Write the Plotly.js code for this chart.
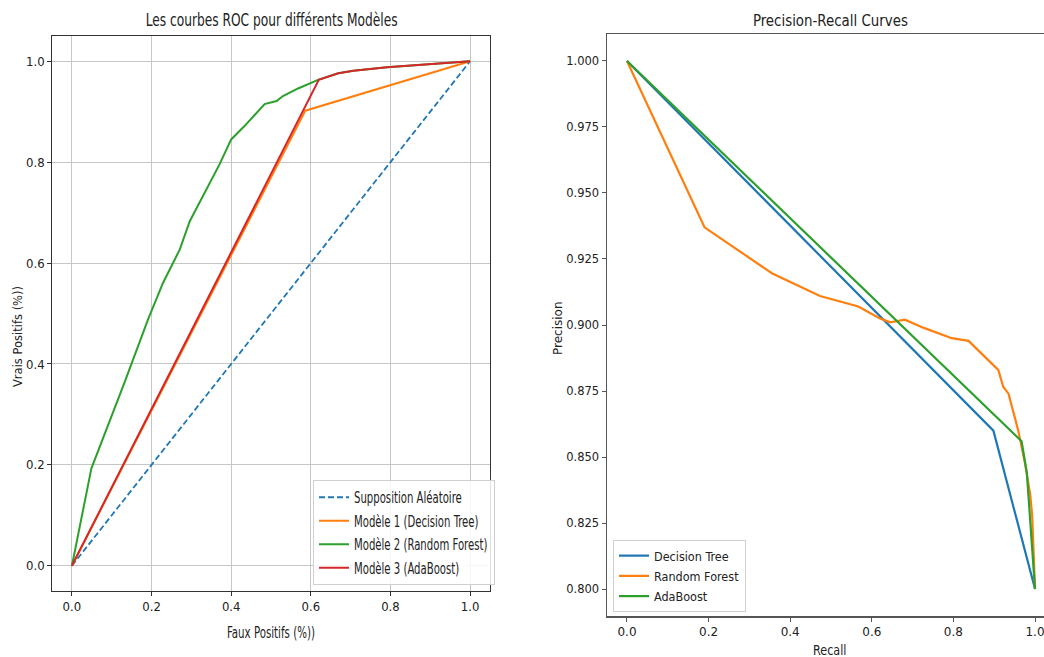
<!DOCTYPE html>
<html>
<head>
<meta charset="utf-8">
<script src="https://cdn.plot.ly/plotly-3.0.1.min.js"></script>
<style>html,body{margin:0;padding:0;background:#fff;}#chart{width:1044px;height:657px;}</style>
</head>
<body>
<div id="chart"></div>
<script>
// ROC data
const randomFpr = [0, 1];
const randomTpr = [0, 1];
const dtFpr = [0, 0.586, 1];
const dtTpr = [0, 0.902, 1];
const rfFpr = [0, 0.049, 0.132, 0.191, 0.229, 0.255, 0.271, 0.296, 0.333, 0.371, 0.400, 0.434, 0.484, 0.514, 0.530, 0.568, 0.618, 0.669, 0.707, 0.791, 1];
const rfTpr = [0, 0.193, 0.363, 0.488, 0.561, 0.601, 0.627, 0.683, 0.739, 0.796, 0.845, 0.872, 0.915, 0.921, 0.931, 0.946, 0.963, 0.976, 0.981, 0.988, 1];
const adaFpr = [0, 0.620, 0.669, 0.707, 0.791, 1];
const adaTpr = [0, 0.963, 0.976, 0.981, 0.988, 1];

// Precision-Recall data
const dtRecall = [0, 0.898, 1];
const dtPrecision = [1, 0.860, 0.800];
const rfRecall = [0, 0.190, 0.355, 0.473, 0.567, 0.620, 0.645, 0.681, 0.726, 0.796, 0.837, 0.910, 0.922, 0.935, 0.959, 0.975, 0.988, 0.993, 1];
const rfPrecision = [1, 0.937, 0.9196, 0.911, 0.907, 0.9025, 0.901, 0.902, 0.899, 0.895, 0.894, 0.883, 0.8766, 0.874, 0.860, 0.848, 0.836, 0.828, 0.800];
const adaRecall = [0, 0.967, 0.980, 1];
const adaPrecision = [1, 0.856, 0.844, 0.800];

const rocNames = ['Supposition Aléatoire', 'Modèle 1 (Decision Tree)', 'Modèle 2 (Random Forest)', 'Modèle 3 (AdaBoost)'];
const prNames = ['Decision Tree', 'Random Forest', 'AdaBoost'];

const rocTicks = [0, 0.2, 0.4, 0.6, 0.8, 1.0];
const rocTickText = ['0.0', '0.2', '0.4', '0.6', '0.8', '1.0'];
const prYTicks = [0.800, 0.825, 0.850, 0.875, 0.900, 0.925, 0.950, 0.975, 1.000];
const prYTickText = ['0.800', '0.825', '0.850', '0.875', '0.900', '0.925', '0.950', '0.975', '1.000'];

const NARROW = '"DejaVu Sans Condensed", "Liberation Sans Narrow", "DejaVu Sans", sans-serif';
const DEJAVU = '"DejaVu Sans", sans-serif';
const C = {blue: '#1f77b4', orange: '#ff7f0e', green: '#2ca02c', red: '#d62728'};

const traces = [
  {x: randomFpr, y: randomTpr, mode: 'lines', name: rocNames[0], legendgroup: 'a', line: {color: C.blue, width: 1.8, dash: '6px,3px'}, xaxis: 'x', yaxis: 'y', legend: 'legend'},
  {x: dtFpr, y: dtTpr, mode: 'lines', name: rocNames[1], legendgroup: 'b', line: {color: C.orange, width: 2}, xaxis: 'x', yaxis: 'y', legend: 'legend'},
  {x: rfFpr, y: rfTpr, mode: 'lines', name: rocNames[2], legendgroup: 'c', line: {color: C.green, width: 2}, xaxis: 'x', yaxis: 'y', legend: 'legend'},
  {x: adaFpr, y: adaTpr, mode: 'lines', name: rocNames[3], legendgroup: 'd', line: {color: C.red, width: 2}, xaxis: 'x', yaxis: 'y', legend: 'legend'},
  {x: dtRecall, y: dtPrecision, mode: 'lines', name: prNames[0], legendgroup: 'e', line: {color: C.blue, width: 2.2}, xaxis: 'x2', yaxis: 'y2', legend: 'legend2'},
  {x: rfRecall, y: rfPrecision, mode: 'lines', name: prNames[1], legendgroup: 'f', line: {color: C.orange, width: 2.2}, xaxis: 'x2', yaxis: 'y2', legend: 'legend2'},
  {x: adaRecall, y: adaPrecision, mode: 'lines', name: prNames[2], legendgroup: 'g', line: {color: C.green, width: 2.2}, xaxis: 'x2', yaxis: 'y2', legend: 'legend2'}
];

const W = 1044, H = 657;
const px = v => v / W;
const py = v => 1 - v / H;

const layout = {
  width: W, height: H,
  margin: {l: 0, r: 0, t: 0, b: 0},
  paper_bgcolor: '#fff', plot_bgcolor: '#fff',
  showlegend: true,
  font: {family: NARROW, size: 12, color: '#222'},
  xaxis: {
    domain: [px(52), px(490)], range: [-0.05, 1.05], anchor: 'y',
    tickvals: rocTicks, ticktext: rocTickText,
    showgrid: true, gridcolor: '#c6c6c6', gridwidth: 1, zeroline: false,
    showline: true, mirror: true, linecolor: '#333', linewidth: 1.2,
    ticks: 'outside', ticklen: 3.5, tickcolor: '#333',
    tickfont: {family: NARROW, size: 13, color: '#222'}
  },
  yaxis: {
    domain: [py(591), py(36)], range: [-0.05, 1.05], anchor: 'x',
    tickvals: rocTicks, ticktext: rocTickText,
    showgrid: true, gridcolor: '#c6c6c6', gridwidth: 1, zeroline: false,
    showline: true, mirror: true, linecolor: '#333', linewidth: 1.2,
    ticks: 'outside', ticklen: 3.5, tickcolor: '#333',
    tickfont: {family: NARROW, size: 13, color: '#222'}
  },
  xaxis2: {
    domain: [px(607), 1], range: [-0.049, 1.022], anchor: 'y2',
    tickvals: rocTicks, ticktext: rocTickText,
    showgrid: false, zeroline: false,
    showline: true, mirror: true, linecolor: '#555', linewidth: 1.5,
    ticks: 'outside', ticklen: 4, tickcolor: '#555',
    ticklabeloverflow: 'allow',
    tickfont: {family: DEJAVU, size: 12, color: '#222'}
  },
  yaxis2: {
    domain: [py(616), py(34)], range: [0.7898, 1.0102], anchor: 'x2',
    tickvals: prYTicks, ticktext: prYTickText,
    showgrid: false, zeroline: false,
    showline: true, mirror: false, linecolor: '#555', linewidth: 1.5,
    ticks: 'outside', ticklen: 4, tickcolor: '#555',
    tickfont: {family: DEJAVU, size: 11.5, color: '#222'}
  },
  legend: {
    x: px(313), y: py(480), xanchor: 'left', yanchor: 'top',
    bgcolor: 'rgba(255,255,255,0.85)', bordercolor: '#d0d0d0', borderwidth: 1,
    font: {family: NARROW, size: 15, color: '#222'},
    tracegroupgap: 1, itemwidth: 30
  },
  legend2: {
    x: px(613), y: py(540), xanchor: 'left', yanchor: 'top',
    bgcolor: 'rgba(255,255,255,0.85)', bordercolor: '#d0d0d0', borderwidth: 1,
    font: {family: NARROW, size: 12.5, color: '#222'},
    tracegroupgap: 1, itemwidth: 30
  },
  annotations: [
    {text: 'Les courbes ROC pour différents Modèles', x: px(271), y: py(20), xref: 'paper', yref: 'paper', showarrow: false, xanchor: 'center', yanchor: 'middle', font: {family: NARROW, size: 17, color: '#222'}},
    {text: 'Faux Positifs (%))', x: px(271), y: py(633), xref: 'paper', yref: 'paper', showarrow: false, xanchor: 'center', yanchor: 'middle', font: {family: NARROW, size: 15, color: '#222'}},
    {text: 'Vrais Positifs (%))', x: px(18), y: py(337), xref: 'paper', yref: 'paper', showarrow: false, textangle: -90, xanchor: 'center', yanchor: 'middle', font: {family: DEJAVU, size: 11.5, color: '#222'}},
    {text: 'Precision-Recall Curves', x: px(830), y: py(20), xref: 'paper', yref: 'paper', showarrow: false, xanchor: 'center', yanchor: 'middle', font: {family: NARROW, size: 16, color: '#222'}},
    {text: 'Recall', x: px(830), y: py(650), xref: 'paper', yref: 'paper', showarrow: false, xanchor: 'center', yanchor: 'middle', font: {family: NARROW, size: 14, color: '#222'}},
    {text: 'Precision', x: px(558), y: py(328), xref: 'paper', yref: 'paper', showarrow: false, textangle: -90, xanchor: 'center', yanchor: 'middle', font: {family: DEJAVU, size: 12, color: '#222'}}
  ]
};

// horizontal squeeze of some texts to mimic the narrow lettering of the original
const annSqueeze = {0: 0.8, 1: 0.76, 3: 0.93, 4: 0.89};
const ROC_LEGEND_SQUEEZE = 0.75;

function squeeze(el, s, origin) {
  el.style.transformBox = 'fill-box';
  el.style.transformOrigin = origin;
  el.style.transform = 'scaleX(' + s + ')';
}

function legendRoot(el) {
  let n = el.parentNode;
  while (n && n.parentNode) {
    if (n.parentNode.classList && n.parentNode.classList.contains('infolayer')) return n;
    n = n.parentNode;
  }
  return null;
}

Plotly.newPlot('chart', traces, layout, {displayModeBar: false, staticPlot: true}).then(gd => {
  Object.keys(annSqueeze).forEach(i => {
    const t = gd.querySelector('g.annotation[data-index="' + i + '"] text.annotation-text');
    if (t) squeeze(t, annSqueeze[i], 'center');
  });
  const rocTexts = [];
  gd.querySelectorAll('text.legendtext').forEach(t => {
    if (rocNames.indexOf(t.textContent.trim()) >= 0) {
      squeeze(t, ROC_LEGEND_SQUEEZE, 'left center');
      rocTexts.push(t);
    }
  });
  if (rocTexts.length) {
    const r = legendRoot(rocTexts[0]);
    const bg = r ? r.querySelector('rect.bg') : null;
    if (bg) {
      const bgBox = bg.getBoundingClientRect();
      let maxR = 0;
      rocTexts.forEach(t => { maxR = Math.max(maxR, t.getBoundingClientRect().right); });
      const newW = Math.round(maxR - bgBox.left + 7);
      if (newW > 0 && newW < bgBox.width) bg.setAttribute('width', newW);
    }
  }
});
</script>
</body>
</html>
